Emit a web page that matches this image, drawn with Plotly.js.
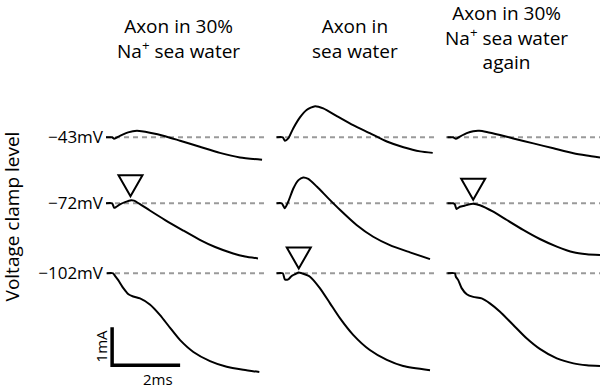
<!DOCTYPE html>
<html><head><meta charset="utf-8">
<script src="https://cdn.plot.ly/plotly-3.0.1.min.js"></script>
<style>html,body{margin:0;padding:0;background:#fff}</style>
</head><body><div id="chart" style="width:600px;height:390px"></div>
<script>
// ---- data ----
const columnTitles = ['Axon in 30%<br>Na<sup>+</sup> sea water', 'Axon in<br>sea water', 'Axon in 30%<br>Na<sup>+</sup> sea water<br>again'];
const levelLabels = ['\u221243mV', '\u221272mV', '\u2212102mV'];
const yAxisTitle = 'Voltage clamp level';
const scaleBarMs = 2;      // horizontal scale bar, ms
const scaleBarMa = 1;      // vertical scale bar, mA
const scaleBarLabels = ['1mA', '2ms'];

// time (ms) and membrane current (mA, up = positive) for each column / clamp level
const c1_43_t = [0, 0.18, 0.24, 0.41, 0.65, 0.91, 1.29, 1.74, 2.18, 2.76, 3.35, 3.94, 4.59];
const c1_43_i = [0, 0, -0.04, 0.04, 0.13, 0.17, 0.12, 0.03, -0.09, -0.25, -0.41, -0.53, -0.59];
const c1_72_t = [0, 0.18, 0.24, 0.29, 0.41, 0.56, 0.74, 0.82, 1.0, 1.29, 1.74, 2.26, 2.76, 3.21, 3.74, 4.09, 4.47];
const c1_72_i = [0, 0, -0.12, -0.10, -0.03, 0.03, 0.08, 0.07, -0.02, -0.19, -0.44, -0.71, -0.96, -1.15, -1.32, -1.40, -1.45];
const c1_102_t = [0.03, 0.21, 0.26, 0.36, 0.51, 0.66, 0.80, 1.0, 1.29, 1.59, 1.88, 2.18, 2.57, 3.06, 3.55, 4.04, 4.51];
const c1_102_i = [0, 0, -0.06, -0.18, -0.39, -0.55, -0.61, -0.66, -0.82, -1.10, -1.43, -1.76, -2.07, -2.31, -2.46, -2.54, -2.60];

const c2_43_t = [0.02, 0.20, 0.26, 0.36, 0.51, 0.71, 0.90, 1.15, 1.39, 1.79, 2.27, 2.76, 3.26, 3.75, 4.24, 4.61];
const c2_43_i = [0, 0, -0.09, -0.03, 0.24, 0.53, 0.72, 0.82, 0.76, 0.56, 0.32, 0.11, -0.11, -0.26, -0.37, -0.41];
const c2_72_t = [0.02, 0.17, 0.26, 0.36, 0.51, 0.66, 0.80, 0.95, 1.20, 1.54, 1.88, 2.37, 2.86, 3.35, 3.94, 4.53];
const c2_72_i = [0, 0, -0.13, 0.04, 0.39, 0.61, 0.68, 0.64, 0.44, 0.13, -0.17, -0.57, -0.88, -1.10, -1.29, -1.47];
const c2_102_t = [0.02, 0.20, 0.26, 0.36, 0.46, 0.61, 0.66, 0.76, 1.00, 1.29, 1.59, 1.88, 2.27, 2.76, 3.26, 3.74, 4.53];
const c2_102_i = [0, 0, -0.16, -0.16, -0.07, 0, 0.02, 0, -0.09, -0.39, -0.79, -1.18, -1.62, -2.02, -2.28, -2.44, -2.55];

const c3_43_t = [0.04, 0.21, 0.29, 0.41, 0.61, 0.80, 0.98, 1.20, 1.59, 1.98, 2.57, 3.16, 3.75, 4.14, 4.53];
const c3_43_i = [0, 0, -0.04, 0.02, 0.11, 0.16, 0.17, 0.14, 0.06, -0.03, -0.16, -0.29, -0.42, -0.48, -0.53];
const c3_72_t = [0.04, 0.21, 0.26, 0.31, 0.41, 0.56, 0.66, 0.80, 1.00, 1.39, 1.79, 2.27, 2.76, 3.26, 3.75, 4.14, 4.53];
const c3_72_i = [0, 0, -0.03, -0.15, -0.09, -0.06, -0.03, -0.01, -0.05, -0.22, -0.44, -0.70, -0.94, -1.14, -1.29, -1.34, -1.36];
const c3_102_t = [0.04, 0.26, 0.29, 0.36, 0.46, 0.61, 0.80, 1.05, 1.29, 1.59, 1.98, 2.37, 2.76, 3.26, 3.75, 4.14, 4.53];
const c3_102_i = [0, 0, -0.09, -0.18, -0.39, -0.55, -0.62, -0.66, -0.79, -1.01, -1.36, -1.71, -1.99, -2.24, -2.37, -2.42, -2.44];

// triangles mark the early inward-current peak
const triCol = [0, 1, 2];
const triLevel = [1, 2, 1];
const triT = [0.72, 0.67, 0.80];
const triI = [0.08, 0.02, -0.01];

// ---- layout helpers ----
const colOffset = [0, 5, 10];                 // ms shift per column
const levelOffset = [0, -1.737, -3.579];      // vertical shift per clamp level (mA units)
const baseLen = [4.68, 4.74, 4.60];           // length of dashed reference lines (ms)

const series = [
  [[c1_43_t, c1_43_i], [c1_72_t, c1_72_i], [c1_102_t, c1_102_i]],
  [[c2_43_t, c2_43_i], [c2_72_t, c2_72_i], [c2_102_t, c2_102_i]],
  [[c3_43_t, c3_43_i], [c3_72_t, c3_72_i], [c3_102_t, c3_102_i]]
];

const traces = [];
for (let c = 0; c < 3; c++) {
  for (let r = 0; r < 3; r++) {
    traces.push({
      x: [colOffset[c], colOffset[c] + baseLen[c]], y: [levelOffset[r], levelOffset[r]],
      mode: 'lines', line: {color: '#9a9a9a', width: 2, dash: '5px,4px'},
      hoverinfo: 'skip', showlegend: false, cliponaxis: false
    });
  }
}
for (let c = 0; c < 3; c++) {
  for (let r = 0; r < 3; r++) {
    const [t, i] = series[c][r];
    traces.push({
      x: t.map(v => v + colOffset[c]), y: i.map(v => v + levelOffset[r]),
      mode: 'lines', line: {color: '#000', width: 2, shape: 'spline', smoothing: 0.6},
      showlegend: false, cliponaxis: false
    });
  }
}
const sbX = 0.18, sbY = -6.0;
traces.push({
  x: [sbX, sbX, sbX + scaleBarMs], y: [sbY + scaleBarMa, sbY, sbY],
  mode: 'lines', line: {color: '#000', width: 3.5}, showlegend: false, hoverinfo: 'skip'
});

const shapes = triCol.map((c, k) => ({
  type: 'path', xref: 'x', yref: 'y', xsizemode: 'pixel', ysizemode: 'pixel',
  xanchor: triT[k] + colOffset[c], yanchor: triI[k] + levelOffset[triLevel[k]],
  path: 'M-12,25 L12,25 L0,4 Z', line: {color: '#000', width: 2}, fillcolor: 'rgba(0,0,0,0)'
}));

const font = 'Open Sans, Noto Sans, sans-serif';
const titleX = [2.12, 2.32, 1.78];
const titleY = [0.973, 0.973, 1.004];
const annotations = columnTitles.map((txt, c) => ({
  text: txt, xref: 'x', yref: 'paper', x: colOffset[c] + titleX[c], y: titleY[c],
  xanchor: 'center', yanchor: 'top', showarrow: false, align: 'center',
  font: {family: font, size: 19, color: '#000'}
}));
annotations.push({
  text: yAxisTitle, textangle: -90, xref: 'paper', yref: 'paper', x: 0, xshift: -94, y: 0.445,
  xanchor: 'center', yanchor: 'middle', showarrow: false, font: {family: font, size: 19, color: '#000'}
});
annotations.push({
  text: scaleBarLabels[0], textangle: -90, xref: 'x', yref: 'y', x: sbX, y: sbY + scaleBarMa / 2,
  xshift: -11, xanchor: 'center', yanchor: 'middle', showarrow: false, font: {family: font, size: 15, color: '#000'}
});
annotations.push({
  text: scaleBarLabels[1], xref: 'x', yref: 'y', x: sbX + scaleBarMs * 0.68, y: sbY,
  yshift: -14, xanchor: 'center', yanchor: 'middle', showarrow: false, font: {family: font, size: 15, color: '#000'}
});

const layout = {
  width: 600, height: 390, margin: {l: 106, r: 0, t: 0, b: 0},
  paper_bgcolor: '#fff', plot_bgcolor: '#fff', showlegend: false,
  xaxis: {range: [0, 14.53], visible: false, fixedrange: true},
  yaxis: {range: [-6.65, 3.613], tickvals: levelOffset, ticktext: levelLabels, showgrid: false,
          zeroline: false, showline: false, ticks: '', ticklabelstandoff: 2,
          tickfont: {family: font, size: 17, color: '#000'}, fixedrange: true},
  shapes: shapes, annotations: annotations
};

Plotly.newPlot('chart', traces, layout, {displayModeBar: false, staticPlot: true});
</script></body></html>
